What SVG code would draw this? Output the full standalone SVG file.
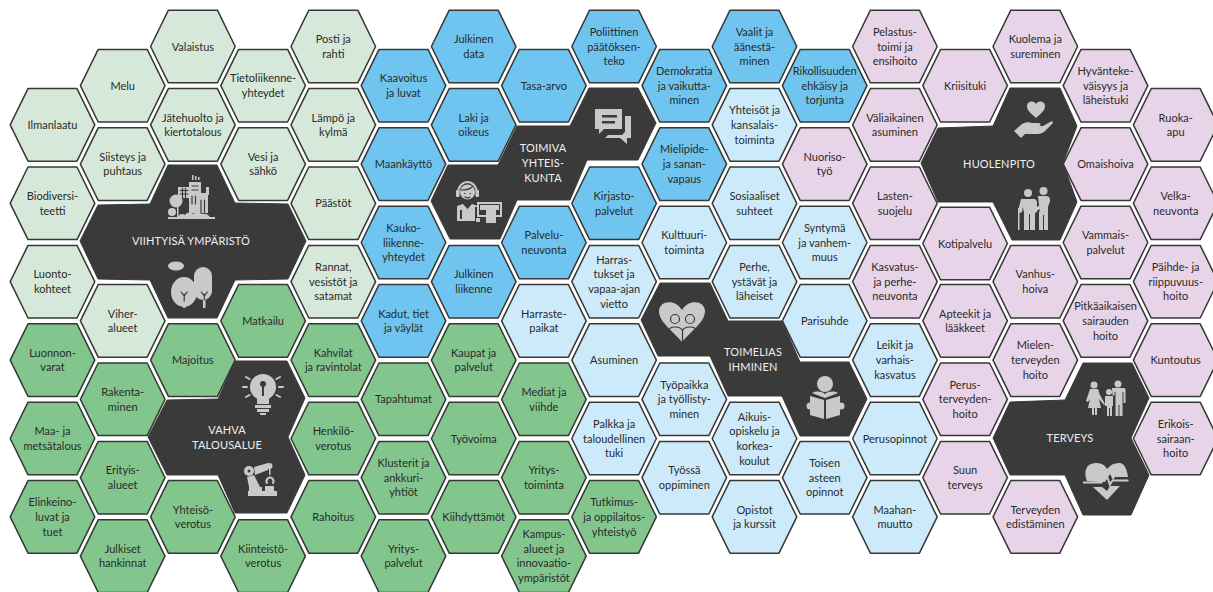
<svg xmlns="http://www.w3.org/2000/svg" width="1213" height="592" viewBox="0 0 1213 592">
<style>
text{font-family:"Lato","Noto Sans",sans-serif;font-size:11px;fill:#2a2a2a;text-anchor:middle}
use{stroke:#363836;stroke-width:1.5;stroke-linejoin:round}
.lg use{fill:#d5e8d9}.gr use{fill:#82c68e}.bl use{fill:#6fc5ef}.lb use{fill:#cdeafa}.pk use{fill:#e8d4e8}
.dk polygon{fill:#3a3a3a;stroke:#3a3a3a;stroke-width:1}
.dk text{fill:#efefef;font-size:11px;letter-spacing:.15px}
.ic{fill:#c9c9c9;stroke:none}.ic .c{fill:#3a3a3a}.ic .o{fill:none;stroke:#c9c9c9;stroke-width:2;stroke-linecap:round}.ic .d{fill:none;stroke:#3a3a3a;stroke-width:1.2;stroke-linecap:round;stroke-linejoin:round}
</style>
<defs><polygon id="hex" points="-42.3,0 -24.5,-36.3 24.5,-36.3 42.3,0 24.5,36.3 -24.5,36.3"/></defs>
<rect width="1213" height="592" fill="#fff"/>
<g id="nodes">
<g id="n1" class="lg" transform="translate(52.5,124.9)"><use href="#hex"/><text y="4">Ilmanlaatu</text></g>
<g id="n2" class="lg" transform="translate(52.5,203.3)"><use href="#hex"/><text><tspan x="0" y="-3.4">Biodiversi-</tspan><tspan x="0" y="11.3">teetti</tspan></text></g>
<g id="n3" class="lg" transform="translate(52.5,281.7)"><use href="#hex"/><text><tspan x="0" y="-3.4">Luonto-</tspan><tspan x="0" y="11.3">kohteet</tspan></text></g>
<g id="n4" class="gr" transform="translate(52.5,360.1)"><use href="#hex"/><text><tspan x="0" y="-3.4">Luonnon-</tspan><tspan x="0" y="11.3">varat</tspan></text></g>
<g id="n5" class="gr" transform="translate(52.5,438.5)"><use href="#hex"/><text><tspan x="0" y="-3.4">Maa- ja</tspan><tspan x="0" y="11.3">metsätalous</tspan></text></g>
<g id="n6" class="gr" transform="translate(52.5,516.9)"><use href="#hex"/><text><tspan x="0" y="-10.7">Elinkeino-</tspan><tspan x="0" y="4">luvat ja</tspan><tspan x="0" y="18.7">tuet</tspan></text></g>
<g id="n7" class="lg" transform="translate(122.7,85.7)"><use href="#hex"/><text y="4">Melu</text></g>
<g id="n8" class="lg" transform="translate(122.7,164.1)"><use href="#hex"/><text><tspan x="0" y="-3.4">Siisteys ja</tspan><tspan x="0" y="11.3">puhtaus</tspan></text></g>
<g id="n9" class="lg" transform="translate(122.7,320.9)"><use href="#hex"/><text><tspan x="0" y="-3.4">Viher-</tspan><tspan x="0" y="11.3">alueet</tspan></text></g>
<g id="n10" class="gr" transform="translate(122.7,399.3)"><use href="#hex"/><text><tspan x="0" y="-3.4">Rakenta-</tspan><tspan x="0" y="11.3">minen</tspan></text></g>
<g id="n11" class="gr" transform="translate(122.7,477.7)"><use href="#hex"/><text><tspan x="0" y="-3.4">Erityis-</tspan><tspan x="0" y="11.3">alueet</tspan></text></g>
<g id="n12" class="gr" transform="translate(122.7,556.1)"><use href="#hex"/><text><tspan x="0" y="-3.4">Julkiset</tspan><tspan x="0" y="11.3">hankinnat</tspan></text></g>
<g id="n13" class="lg" transform="translate(192.9,46.5)"><use href="#hex"/><text y="4">Valaistus</text></g>
<g id="n14" class="lg" transform="translate(192.9,124.9)"><use href="#hex"/><text><tspan x="0" y="-3.4">Jätehuolto ja</tspan><tspan x="0" y="11.3">kiertotalous</tspan></text></g>
<g id="n15" class="gr" transform="translate(192.9,360.1)"><use href="#hex"/><text y="4">Majoitus</text></g>
<g id="n16" class="gr" transform="translate(192.9,516.9)"><use href="#hex"/><text><tspan x="0" y="-3.4">Yhteisö-</tspan><tspan x="0" y="11.3">verotus</tspan></text></g>
<g id="n17" class="lg" transform="translate(263.1,85.7)"><use href="#hex"/><text><tspan x="0" y="-3.4">Tietoliikenne-</tspan><tspan x="0" y="11.3">yhteydet</tspan></text></g>
<g id="n18" class="lg" transform="translate(263.1,164.1)"><use href="#hex"/><text><tspan x="0" y="-3.4">Vesi ja</tspan><tspan x="0" y="11.3">sähkö</tspan></text></g>
<g id="n19" class="gr" transform="translate(263.1,320.9)"><use href="#hex"/><text y="4">Matkailu</text></g>
<g id="n20" class="gr" transform="translate(263.1,556.1)"><use href="#hex"/><text><tspan x="0" y="-3.4">Kiinteistö-</tspan><tspan x="0" y="11.3">verotus</tspan></text></g>
<g id="n21" class="lg" transform="translate(333.3,46.5)"><use href="#hex"/><text><tspan x="0" y="-3.4">Posti ja</tspan><tspan x="0" y="11.3">rahti</tspan></text></g>
<g id="n22" class="lg" transform="translate(333.3,124.9)"><use href="#hex"/><text><tspan x="0" y="-3.4">Lämpö ja</tspan><tspan x="0" y="11.3">kylmä</tspan></text></g>
<g id="n23" class="lg" transform="translate(333.3,203.3)"><use href="#hex"/><text y="4">Päästöt</text></g>
<g id="n24" class="lg" transform="translate(333.3,281.7)"><use href="#hex"/><text><tspan x="0" y="-10.7">Rannat,</tspan><tspan x="0" y="4">vesistöt ja</tspan><tspan x="0" y="18.7">satamat</tspan></text></g>
<g id="n25" class="gr" transform="translate(333.3,360.1)"><use href="#hex"/><text><tspan x="0" y="-3.4">Kahvilat</tspan><tspan x="0" y="11.3">ja ravintolat</tspan></text></g>
<g id="n26" class="gr" transform="translate(333.3,438.5)"><use href="#hex"/><text><tspan x="0" y="-3.4">Henkilö-</tspan><tspan x="0" y="11.3">verotus</tspan></text></g>
<g id="n27" class="gr" transform="translate(333.3,516.9)"><use href="#hex"/><text y="4">Rahoitus</text></g>
<g id="n28" class="bl" transform="translate(403.5,85.7)"><use href="#hex"/><text><tspan x="0" y="-3.4">Kaavoitus</tspan><tspan x="0" y="11.3">ja luvat</tspan></text></g>
<g id="n29" class="bl" transform="translate(403.5,164.1)"><use href="#hex"/><text y="4">Maankäyttö</text></g>
<g id="n30" class="bl" transform="translate(403.5,242.5)"><use href="#hex"/><text><tspan x="0" y="-10.7">Kauko-</tspan><tspan x="0" y="4">liikenne-</tspan><tspan x="0" y="18.7">yhteydet</tspan></text></g>
<g id="n31" class="bl" transform="translate(403.5,320.9)"><use href="#hex"/><text><tspan x="0" y="-3.4">Kadut, tiet</tspan><tspan x="0" y="11.3">ja väylät</tspan></text></g>
<g id="n32" class="gr" transform="translate(403.5,399.3)"><use href="#hex"/><text y="4">Tapahtumat</text></g>
<g id="n33" class="gr" transform="translate(403.5,477.7)"><use href="#hex"/><text><tspan x="0" y="-10.7">Klusterit ja</tspan><tspan x="0" y="4">ankkuri-</tspan><tspan x="0" y="18.7">yhtiöt</tspan></text></g>
<g id="n34" class="gr" transform="translate(403.5,556.1)"><use href="#hex"/><text><tspan x="0" y="-3.4">Yritys-</tspan><tspan x="0" y="11.3">palvelut</tspan></text></g>
<g id="n35" class="bl" transform="translate(473.7,46.5)"><use href="#hex"/><text><tspan x="0" y="-3.4">Julkinen</tspan><tspan x="0" y="11.3">data</tspan></text></g>
<g id="n36" class="bl" transform="translate(473.7,124.9)"><use href="#hex"/><text><tspan x="0" y="-3.4">Laki ja</tspan><tspan x="0" y="11.3">oikeus</tspan></text></g>
<g id="n37" class="bl" transform="translate(473.7,281.7)"><use href="#hex"/><text><tspan x="0" y="-3.4">Julkinen</tspan><tspan x="0" y="11.3">liikenne</tspan></text></g>
<g id="n38" class="gr" transform="translate(473.7,360.1)"><use href="#hex"/><text><tspan x="0" y="-3.4">Kaupat ja</tspan><tspan x="0" y="11.3">palvelut</tspan></text></g>
<g id="n39" class="gr" transform="translate(473.7,438.5)"><use href="#hex"/><text y="4">Työvoima</text></g>
<g id="n40" class="gr" transform="translate(473.7,516.9)"><use href="#hex"/><text y="4">Kiihdyttämöt</text></g>
<g id="n41" class="bl" transform="translate(543.9,85.7)"><use href="#hex"/><text y="4">Tasa-arvo</text></g>
<g id="n42" class="bl" transform="translate(543.9,242.5)"><use href="#hex"/><text><tspan x="0" y="-3.4">Palvelu-</tspan><tspan x="0" y="11.3">neuvonta</tspan></text></g>
<g id="n43" class="lb" transform="translate(543.9,320.9)"><use href="#hex"/><text><tspan x="0" y="-3.4">Harraste-</tspan><tspan x="0" y="11.3">paikat</tspan></text></g>
<g id="n44" class="gr" transform="translate(543.9,399.3)"><use href="#hex"/><text><tspan x="0" y="-3.4">Mediat ja</tspan><tspan x="0" y="11.3">viihde</tspan></text></g>
<g id="n45" class="gr" transform="translate(543.9,477.7)"><use href="#hex"/><text><tspan x="0" y="-3.4">Yritys-</tspan><tspan x="0" y="11.3">toiminta</tspan></text></g>
<g id="n46" class="gr" transform="translate(543.9,556.1)"><use href="#hex"/><text><tspan x="0" y="-18">Kampus-</tspan><tspan x="0" y="-3.4">alueet ja</tspan><tspan x="0" y="11.3">innovaatio-</tspan><tspan x="0" y="26">ympäristöt</tspan></text></g>
<g id="n47" class="bl" transform="translate(614.1,46.5)"><use href="#hex"/><text><tspan x="0" y="-10.7">Poliittinen</tspan><tspan x="0" y="4">päätöksen-</tspan><tspan x="0" y="18.7">teko</tspan></text></g>
<g id="n48" class="bl" transform="translate(614.1,203.3)"><use href="#hex"/><text><tspan x="0" y="-3.4">Kirjasto-</tspan><tspan x="0" y="11.3">palvelut</tspan></text></g>
<g id="n49" class="lb" transform="translate(614.1,281.7)"><use href="#hex"/><text><tspan x="0" y="-18">Harras-</tspan><tspan x="0" y="-3.4">tukset ja</tspan><tspan x="0" y="11.3">vapaa-ajan</tspan><tspan x="0" y="26">vietto</tspan></text></g>
<g id="n50" class="lb" transform="translate(614.1,360.1)"><use href="#hex"/><text y="4">Asuminen</text></g>
<g id="n51" class="lb" transform="translate(614.1,438.5)"><use href="#hex"/><text><tspan x="0" y="-10.7">Palkka ja</tspan><tspan x="0" y="4">taloudellinen</tspan><tspan x="0" y="18.7">tuki</tspan></text></g>
<g id="n52" class="gr" transform="translate(614.1,516.9)"><use href="#hex"/><text><tspan x="0" y="-10.7">Tutkimus-</tspan><tspan x="0" y="4">ja oppilaitos-</tspan><tspan x="0" y="18.7">yhteistyö</tspan></text></g>
<g id="n53" class="bl" transform="translate(684.3,85.7)"><use href="#hex"/><text><tspan x="0" y="-10.7">Demokratia</tspan><tspan x="0" y="4">ja vaikutta-</tspan><tspan x="0" y="18.7">minen</tspan></text></g>
<g id="n54" class="bl" transform="translate(684.3,164.1)"><use href="#hex"/><text><tspan x="0" y="-10.7">Mielipide-</tspan><tspan x="0" y="4">ja sanan-</tspan><tspan x="0" y="18.7">vapaus</tspan></text></g>
<g id="n55" class="lb" transform="translate(684.3,242.5)"><use href="#hex"/><text><tspan x="0" y="-3.4">Kulttuuri-</tspan><tspan x="0" y="11.3">toiminta</tspan></text></g>
<g id="n56" class="lb" transform="translate(684.3,399.3)"><use href="#hex"/><text><tspan x="0" y="-10.7">Työpaikka</tspan><tspan x="0" y="4">ja työllisty-</tspan><tspan x="0" y="18.7">minen</tspan></text></g>
<g id="n57" class="lb" transform="translate(684.3,477.7)"><use href="#hex"/><text><tspan x="0" y="-3.4">Työssä</tspan><tspan x="0" y="11.3">oppiminen</tspan></text></g>
<g id="n58" class="bl" transform="translate(754.5,46.5)"><use href="#hex"/><text><tspan x="0" y="-10.7">Vaalit ja</tspan><tspan x="0" y="4">äänestä-</tspan><tspan x="0" y="18.7">minen</tspan></text></g>
<g id="n59" class="lb" transform="translate(754.5,124.9)"><use href="#hex"/><text><tspan x="0" y="-10.7">Yhteisöt ja</tspan><tspan x="0" y="4">kansalais-</tspan><tspan x="0" y="18.7">toiminta</tspan></text></g>
<g id="n60" class="lb" transform="translate(754.5,203.3)"><use href="#hex"/><text><tspan x="0" y="-3.4">Sosiaaliset</tspan><tspan x="0" y="11.3">suhteet</tspan></text></g>
<g id="n61" class="lb" transform="translate(754.5,281.7)"><use href="#hex"/><text><tspan x="0" y="-10.7">Perhe,</tspan><tspan x="0" y="4">ystävät ja</tspan><tspan x="0" y="18.7">läheiset</tspan></text></g>
<g id="n62" class="lb" transform="translate(754.5,438.5)"><use href="#hex"/><text><tspan x="0" y="-18">Aikuis-</tspan><tspan x="0" y="-3.4">opiskelu ja</tspan><tspan x="0" y="11.3">korkea-</tspan><tspan x="0" y="26">koulut</tspan></text></g>
<g id="n63" class="lb" transform="translate(754.5,516.9)"><use href="#hex"/><text><tspan x="0" y="-3.4">Opistot</tspan><tspan x="0" y="11.3">ja kurssit</tspan></text></g>
<g id="n64" class="bl" transform="translate(824.7,85.7)"><use href="#hex"/><text><tspan x="0" y="-10.7">Rikollisuuden</tspan><tspan x="0" y="4">ehkäisy ja</tspan><tspan x="0" y="18.7">torjunta</tspan></text></g>
<g id="n65" class="pk" transform="translate(824.7,164.1)"><use href="#hex"/><text><tspan x="0" y="-3.4">Nuoriso-</tspan><tspan x="0" y="11.3">työ</tspan></text></g>
<g id="n66" class="lb" transform="translate(824.7,242.5)"><use href="#hex"/><text><tspan x="0" y="-10.7">Syntymä</tspan><tspan x="0" y="4">ja vanhem-</tspan><tspan x="0" y="18.7">muus</tspan></text></g>
<g id="n67" class="lb" transform="translate(824.7,320.9)"><use href="#hex"/><text y="4">Parisuhde</text></g>
<g id="n68" class="lb" transform="translate(824.7,477.7)"><use href="#hex"/><text><tspan x="0" y="-10.7">Toisen</tspan><tspan x="0" y="4">asteen</tspan><tspan x="0" y="18.7">opinnot</tspan></text></g>
<g id="n69" class="pk" transform="translate(894.9,46.5)"><use href="#hex"/><text><tspan x="0" y="-10.7">Pelastus-</tspan><tspan x="0" y="4">toimi ja</tspan><tspan x="0" y="18.7">ensihoito</tspan></text></g>
<g id="n70" class="pk" transform="translate(894.9,124.9)"><use href="#hex"/><text><tspan x="0" y="-3.4">Väliaikainen</tspan><tspan x="0" y="11.3">asuminen</tspan></text></g>
<g id="n71" class="pk" transform="translate(894.9,203.3)"><use href="#hex"/><text><tspan x="0" y="-3.4">Lasten-</tspan><tspan x="0" y="11.3">suojelu</tspan></text></g>
<g id="n72" class="pk" transform="translate(894.9,281.7)"><use href="#hex"/><text><tspan x="0" y="-10.7">Kasvatus-</tspan><tspan x="0" y="4">ja perhe-</tspan><tspan x="0" y="18.7">neuvonta</tspan></text></g>
<g id="n73" class="lb" transform="translate(894.9,360.1)"><use href="#hex"/><text><tspan x="0" y="-10.7">Leikit ja</tspan><tspan x="0" y="4">varhais-</tspan><tspan x="0" y="18.7">kasvatus</tspan></text></g>
<g id="n74" class="lb" transform="translate(894.9,438.5)"><use href="#hex"/><text y="4">Perusopinnot</text></g>
<g id="n75" class="lb" transform="translate(894.9,516.9)"><use href="#hex"/><text><tspan x="0" y="-3.4">Maahan-</tspan><tspan x="0" y="11.3">muutto</tspan></text></g>
<g id="n76" class="pk" transform="translate(965.1,85.7)"><use href="#hex"/><text y="4">Kriisituki</text></g>
<g id="n77" class="pk" transform="translate(965.1,243.5)"><use href="#hex"/><text y="4">Kotipalvelu</text></g>
<g id="n78" class="pk" transform="translate(965.1,320.9)"><use href="#hex"/><text><tspan x="0" y="-3.4">Apteekit ja</tspan><tspan x="0" y="11.3">lääkkeet</tspan></text></g>
<g id="n79" class="pk" transform="translate(965.1,399.3)"><use href="#hex"/><text><tspan x="0" y="-10.7">Perus-</tspan><tspan x="0" y="4">terveyden-</tspan><tspan x="0" y="18.7">hoito</tspan></text></g>
<g id="n80" class="pk" transform="translate(965.1,477.7)"><use href="#hex"/><text><tspan x="0" y="-3.4">Suun</tspan><tspan x="0" y="11.3">terveys</tspan></text></g>
<g id="n81" class="pk" transform="translate(1035.3,46.5)"><use href="#hex"/><text><tspan x="0" y="-3.4">Kuolema ja</tspan><tspan x="0" y="11.3">sureminen</tspan></text></g>
<g id="n82" class="pk" transform="translate(1035.3,281.7)"><use href="#hex"/><text><tspan x="0" y="-3.4">Vanhus-</tspan><tspan x="0" y="11.3">hoiva</tspan></text></g>
<g id="n83" class="pk" transform="translate(1035.3,360.1)"><use href="#hex"/><text><tspan x="0" y="-10.7">Mielen-</tspan><tspan x="0" y="4">terveyden</tspan><tspan x="0" y="18.7">hoito</tspan></text></g>
<g id="n84" class="pk" transform="translate(1035.3,516.9)"><use href="#hex"/><text><tspan x="0" y="-3.4">Terveyden</tspan><tspan x="0" y="11.3">edistäminen</tspan></text></g>
<g id="n85" class="pk" transform="translate(1105.5,85.7)"><use href="#hex"/><text><tspan x="0" y="-10.7">Hyvänteke-</tspan><tspan x="0" y="4">väisyys ja</tspan><tspan x="0" y="18.7">läheistuki</tspan></text></g>
<g id="n86" class="pk" transform="translate(1105.5,164.1)"><use href="#hex"/><text y="4">Omaishoiva</text></g>
<g id="n87" class="pk" transform="translate(1105.5,242.5)"><use href="#hex"/><text><tspan x="0" y="-3.4">Vammais-</tspan><tspan x="0" y="11.3">palvelut</tspan></text></g>
<g id="n88" class="pk" transform="translate(1105.5,320.9)"><use href="#hex"/><text><tspan x="0" y="-10.7">Pitkäaikaisen</tspan><tspan x="0" y="4">sairauden</tspan><tspan x="0" y="18.7">hoito</tspan></text></g>
<g id="n89" class="pk" transform="translate(1175.7,124.9)"><use href="#hex"/><text><tspan x="0" y="-3.4">Ruoka-</tspan><tspan x="0" y="11.3">apu</tspan></text></g>
<g id="n90" class="pk" transform="translate(1175.7,203.3)"><use href="#hex"/><text><tspan x="0" y="-3.4">Velka-</tspan><tspan x="0" y="11.3">neuvonta</tspan></text></g>
<g id="n91" class="pk" transform="translate(1175.7,281.7)"><use href="#hex"/><text><tspan x="0" y="-10.7">Päihde- ja</tspan><tspan x="0" y="4">riippuvuus-</tspan><tspan x="0" y="18.7">hoito</tspan></text></g>
<g id="n92" class="pk" transform="translate(1175.7,360.1)"><use href="#hex"/><text y="4">Kuntoutus</text></g>
<g id="n93" class="pk" transform="translate(1175.7,438.5)"><use href="#hex"/><text><tspan x="0" y="-10.7">Erikois-</tspan><tspan x="0" y="4">sairaan-</tspan><tspan x="0" y="18.7">hoito</tspan></text></g>
</g>
<g id="viihtyisa" class="dk"><polygon points="168,165 217,165 235,203 288,204 306,241 288,279 235,280 217,318 168,318 150,280 98,279 80,241 98,205 150,204"/><text x="191" y="245">VIIHTYISÄ YMPÄRISTÖ</text>
<g class="ic"><rect x="168" y="217" width="47" height="2"/><path d="M178 217c2-4 5-3 7-2 2-3 6-3 8-1 3-2 7-2 9 0 3-1 6 0 8 3z"/><path d="M189 182h12v31h-12zM198 193h10v20h-10zM206 187h3v8h-3zM178 187h11v11h-11z"/><rect x="192" y="175" width="1.500" height="5"/><rect x="195" y="176" width="1.500" height="4"/><rect x="198" y="177" width="1.500" height="3"/><circle cx="176" cy="201" r="6.500"/><circle cx="172" cy="212" r="4"/><rect x="177" y="204" width="1.500" height="14"/>
<path class="d" d="M180 190.500h8M180 194h8M182.500 188v10M185.500 188v10M192 186h6M192 190h6M192 196v8M195.500 196v8M201 200v13M204.500 200v13"/></g>
<g class="ic"><ellipse cx="176" cy="266" rx="8" ry="4.500"/><ellipse cx="184" cy="292" rx="13" ry="15"/><rect x="194" y="267" width="18" height="33" rx="9"/><rect x="183" y="296" width="2.500" height="12"/><rect x="203" y="296" width="2.500" height="12"/><path class="d" d="M184.200 296l-3 -4M184.200 296l3 -4M184.200 294v7M204.300 296l-3 -4M204.300 296l3 -4M204.300 294v6"/></g></g>
<g id="vahva" class="dk"><polygon points="235,361 287,361 305,398 288,437 305,475 287,513 235,513 218,475 167,475 148,437 167,400 218,399"/><text><tspan x="227" y="434">VAHVA</tspan><tspan x="227" y="448.500">TALOUSALUE</tspan></text>
<g class="ic"><circle cx="263" cy="387" r="13"/><path d="M257 396h12v8h-12zM255 405h16v3h-16zM257 409h12v3h-12zM260 413h6v2h-6z"/><circle class="c" cx="263" cy="384" r="3"/><rect class="c" x="262" y="385" width="2" height="11"/><path class="o" d="M243 387h4M279 387h4M246 377l3.500 2M280 377l-3.500 2M246 397l3.500 -2M280 397l-3.500 -2"/></g>
<g class="ic"><rect x="248" y="491" width="29" height="5"/><rect x="249" y="487" width="13" height="4"/><path d="M247 477l7 -2 6 12h-11z"/><circle cx="249" cy="471" r="5"/><circle class="c" cx="249" cy="471" r="1.500"/><path d="M254 467l14 -4v7l-13 5z"/><circle cx="269.500" cy="466" r="3"/><rect x="269" y="468" width="1.500" height="7"/><path class="o" d="M267 483a3.500 3.500 0 1 1 6 0" stroke-width="1.500"/><rect x="265" y="486" width="9" height="5"/></g></g>
<g id="toimiva" class="dk"><polygon points="589,88 638,88 656,123 638,160 587,160 570,200 517,200 500,239 450,239 431,201 448,165 498,165 517,126 570,126"/><text><tspan x="543" y="152">TOIMIVA</tspan><tspan x="543" y="167">YHTEIS-</tspan><tspan x="543" y="182">KUNTA</tspan></text>
<g class="ic"><path d="M595 109h27v20h-18l-5 5v-5h-4z"/><path d="M625 116h6v22h-4v6l-7-6h-15l3-3h14l3-3z"/><rect class="c" x="602" y="115" width="15" height="2.500"/><rect class="c" x="602" y="121" width="13" height="2.500"/></g>
<g class="ic"><path class="o" d="M458 193a9.500 11 0 0 1 19 0" stroke-width="1.500"/><rect x="456" y="190" width="3.500" height="7" rx="1"/><rect x="475.500" y="190" width="3.500" height="7" rx="1"/><circle cx="467.500" cy="192" r="7.500"/><path class="d" d="M461 190c3 0 9-1 11-3M464.500 193.500h.5M470 193.500h.5M465 197c1.500 1 3.500 1 5 0"/><path d="M457 221v-15l6-2 4.500 5 4.500-5 6 2v1h-3v14z"/><path class="c" d="M460 210h2v9h-2z"/><rect x="477" y="202" width="25" height="15"/><rect class="c" x="479" y="204" width="21" height="11"/><rect x="480" y="205" width="19" height="5"/><rect x="486" y="209" width="10" height="14"/><rect x="476" y="218" width="4" height="4"/><rect x="495" y="215" width="7" height="2"/></g></g>
<g id="toimelias" class="dk"><polygon points="660,283 710,283 728,321 782,321 800,362 849,362 867,399 849,436 800,436 782,396 728,396 710,356 658,356 641,320"/><text><tspan x="753" y="356">TOIMELIAS</tspan><tspan x="753" y="371">IHMINEN</tspan></text>
<g class="ic"><path d="M682 342C672 330 659 322 659 311 659 301 675 298 682 310 689 298 705 301 705 311 705 322 692 330 682 342z"/><circle class="d" cx="675" cy="319" r="4.500"/><circle class="d" cx="690" cy="319" r="4.500"/><path class="d" d="M668 331c1-3 4-4 7-4 4 0 7 1 7.500 4v11M697 331c-1-3-4-4-7-4-4 0-7 1-7.500 4"/></g>
<g class="ic"><circle cx="825" cy="384" r="8"/><path d="M810 396l14 4v19l-14 -4zM840 396l-14 4v19l14 -4z"/><path d="M812 393c4 -2 9 -2 13 1 4 -3 9 -3 13 -1l-13 5z"/><circle cx="810" cy="406" r="3.500"/><circle cx="841" cy="406" r="3.500"/></g></g>
<g id="huolenpito" class="dk"><polygon points="1010,88 1060,88 1077,126 1063,163 1077,202 1060,240 1012,240 993,202 938,202 921,163 938,128 993,126"/><text x="999" y="168">HUOLENPITO</text>
<g class="ic"><path d="M1036 118c-4 -4-9 -7-9 -12 0-5 7-6 9 -2 2-4 9-3 9 2 0 5-5 8-9 12z"/><path d="M1014 131l8 -7c4 -2 6 -2 10 -1h7c2 0 2 3 0 3h-5l9 0 9 -5 1 2-9 9c-2 1-4 2-6 2h-13l-4 4z"/></g>
<g class="ic"><circle cx="1028" cy="193" r="4"/><circle cx="1043.500" cy="191" r="4"/><path d="M1021 199h13c2 0 3 2 3 4v9l-2 1v17h-5v-16h-1v16h-5v-17l-1-6-1 5-2 1-2-2z"/><path d="M1038 196h8c3 0 4 2 4 4v1l-2 6v23h-4v-15h-1v15h-4v-17l1-4-4 2-2-3 5-2z"/><rect x="1018" y="208" width="1.500" height="22"/></g></g>
<g id="terveys" class="dk"><polygon points="1083,363 1132,363 1149,398 1131,438 1149,475 1131,515 1083,515 1065,475 1010,475 993,438 1010,402 1065,400"/><text x="1070" y="442">TERVEYS</text>
<g class="ic"><circle cx="1094" cy="385" r="3.500"/><path d="M1090 389h8l2 6 5 9-1 1-5-6 2 9h-4v7h-2v-7h-1v7h-2v-7h-4l2-9-2 3-2-1z"/><circle cx="1118" cy="384" r="3.500"/><path d="M1112 388h12c1 0 1.500 1 1.500 2v13h-2v-11h-1v24h-3v-11h-1v11h-3v-24h-1v4l-2-1z"/><circle cx="1109" cy="392" r="3"/><path d="M1105 396h8v10h-1v10h-2v-8h-1v8h-2v-10h-2z"/></g>
<g class="ic"><path d="M1087 481C1083 472 1086 463 1096 463 1101 463 1105 465 1107 469 1110 465 1114 463 1119 463 1125 463 1127 470 1128 477H1115L1113 480 1110 474 1105 482H1100Z"/><path d="M1083 483.500H1102L1106 476 1109.500 487 1113 481.500H1128.500V479.500H1114L1113 479 1110 482 1106 471 1101 481.500H1083Z"/><path d="M1093 487H1102L1107 491 1110 486H1120L1107 500Z"/></g></g>
</svg>
